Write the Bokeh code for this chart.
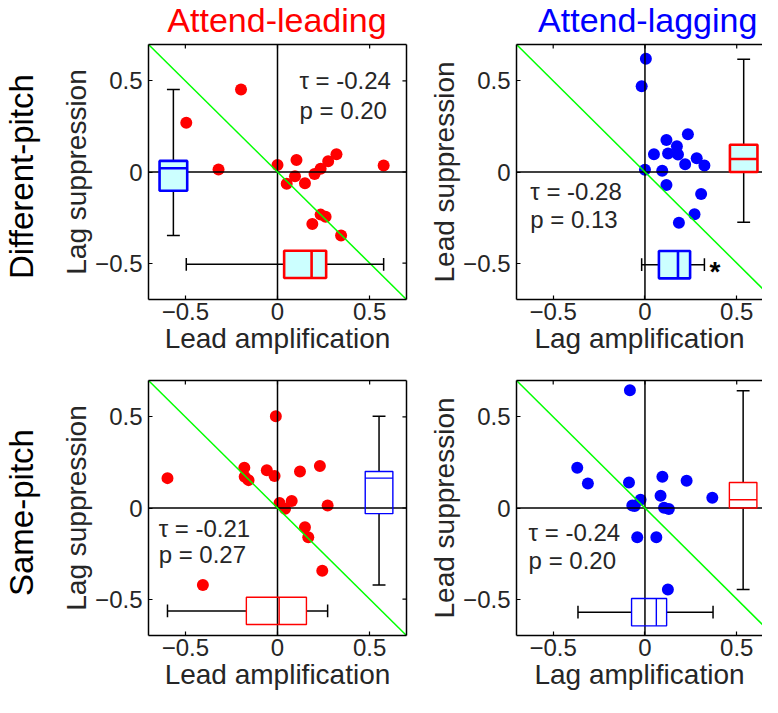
import math
from bokeh.plotting import figure
from bokeh.layouts import column, row
from bokeh.models import Range1d, LinearAxis, FixedTicker, Label
from bokeh.embed import file_html
from bokeh.resources import INLINE

FONT = "Liberation Sans"
TXT = "#262626"
RED = "#ff0000"
BLUE = "#0000ff"
CYAN = "#ccffff"
GREEN = "#00ff00"

# ---------------- data ----------------
col_titles = ["Attend-leading", "Attend-lagging"]
row_titles = ["Different-pitch", "Same-pitch"]
x_labels = ["Lead amplification", "Lag amplification"]
y_labels = ["Lag suppression", "Lead suppression"]
tick_values = [-0.5, 0, 0.5]
tick_labels = ["\u22120.5", "0", "0.5"]
AXLIM = [-0.7, 0.7]

# Different-pitch, attend-leading
dl_x = [-0.198, -0.495, -0.320, 0.000, 0.103, 0.320, 0.275, 0.234, 0.201,
        0.095, 0.050, 0.149, 0.576, 0.234, 0.261, 0.189, 0.345]
dl_y = [0.453, 0.271, 0.014, 0.039, 0.066, 0.098, 0.059, 0.018, -0.011,
        -0.023, -0.064, -0.062, 0.036, -0.234, -0.246, -0.285, -0.348]
# Different-pitch, attend-lagging
dg_x = [0.005, -0.018, 0.000, 0.049, 0.117, 0.174, 0.126, 0.180, 0.234,
        0.219, 0.282, 0.324, 0.094, 0.117, 0.306, 0.270, 0.185]
dg_y = [0.622, 0.471, 0.012, 0.098, 0.176, 0.141, 0.102, 0.096, 0.207,
        0.043, 0.075, 0.036, 0.007, -0.071, -0.121, -0.232, -0.278]
# Same-pitch, attend-leading
sl_x = [-0.009, -0.597, -0.180, -0.178, -0.157, -0.058, -0.016, 0.122, 0.230,
        0.011, 0.077, 0.041, 0.272, 0.149, 0.167, 0.243, -0.405]
sl_y = [0.504, 0.164, 0.221, 0.171, 0.153, 0.207, 0.176, 0.200, 0.230,
        0.027, 0.038, -0.004, 0.014, -0.106, -0.160, -0.345, -0.423]
# Same-pitch, attend-lagging
sg_x = [-0.082, -0.369, -0.311, -0.087, 0.095, 0.227, 0.085, -0.024, -0.069,
        0.104, 0.130, 0.367, -0.042, 0.062, 0.125, -0.056]
sg_y = [0.647, 0.221, 0.135, 0.140, 0.171, 0.149, 0.067, 0.045, 0.014,
        0.002, -0.005, 0.056, -0.160, -0.160, -0.448, 0.011]

# box statistics: [whisker low, q1, median, q3, whisker high]
dl_xbox = [-0.495, 0.036, 0.185, 0.264, 0.576]
dl_ybox = [-0.349, -0.103, 0.021, 0.061, 0.453]
dg_xbox = [-0.018, 0.076, 0.180, 0.246, 0.324]
dg_ybox = [-0.276, 0.000, 0.071, 0.150, 0.619]
sl_xbox = [-0.597, -0.169, 0.009, 0.157, 0.272]
sl_ybox = [-0.423, -0.031, 0.164, 0.200, 0.504]
sg_xbox = [-0.365, -0.073, 0.062, 0.118, 0.371]
sg_ybox = [-0.448, 0.000, 0.045, 0.140, 0.644]

tau_values = ["-0.24", "-0.28", "-0.21", "-0.24"]
p_values = ["0.20", "0.13", "0.27", "0.20"]

# ---------------- layout constants ----------------
ROWT_W = 58                      # width of the row-title strip
LEFT_W, RIGHT_W = 368, 336       # panel figure widths
HEAD_H = 40                      # column-title strip height
TOP_H, BOT_H = 321, 336          # panel figure heights
LEFT_MB = dict(left=89, right=20)
RIGHT_MB = dict(left=88, right=0)
ROW_MB = [dict(top=4, bottom=62), dict(top=19, bottom=62)]
RIGHT_XEND = 0.6405
BOX_HALF = 0.075
CAP_HALF = 0.035
TICK_LEN = 0.022


def style_axis(ax, standoff):
    ax.ticker = FixedTicker(ticks=tick_values)
    ax.minor_tick_line_color = None
    ax.major_tick_in = 4
    ax.major_tick_out = 0
    ax.major_tick_line_color = "black"
    ax.major_tick_line_width = 1.2
    ax.axis_line_color = "black"
    ax.axis_line_width = 1.5
    ax.major_label_overrides = {v: t for v, t in zip(tick_values, tick_labels)}
    ax.major_label_text_font = FONT
    ax.major_label_text_font_size = "24px"
    ax.major_label_text_color = TXT
    ax.major_label_standoff = standoff
    ax.axis_label_text_font = FONT
    ax.axis_label_text_font_size = "28px"
    ax.axis_label_text_font_style = "normal"
    ax.axis_label_text_color = TXT
    ax.axis_label_standoff = 0


def border_axis():
    ax = LinearAxis(ticker=FixedTicker(ticks=[]))
    ax.minor_tick_line_color = None
    ax.major_tick_line_color = None
    ax.axis_line_color = "black"
    ax.axis_line_width = 1.5
    ax.major_label_standoff = 0
    return ax


def blank_fig(width, height, x_range, y_range, mb):
    f = figure(width=width, height=height, x_range=x_range, y_range=y_range,
               output_backend="svg", toolbar_location=None,
               min_border_left=mb.get("left", 0), min_border_right=mb.get("right", 0),
               min_border_top=mb.get("top", 0), min_border_bottom=mb.get("bottom", 0))
    f.axis.visible = False
    f.grid.visible = False
    f.outline_line_color = None
    f.background_fill_color = None
    f.border_fill_color = "white"
    return f


def draw_box(p, stats, center, horizontal, color, filled, lw):
    lo, q1, med, q3, hi = stats
    a, b = center - BOX_HALF, center + BOX_HALF
    fill = CYAN if filled else None
    if horizontal:
        p.segment(x0=[lo, q3], x1=[q1, hi], y0=[center, center], y1=[center, center],
                  line_color="black", line_width=1.5)
        p.segment(x0=[lo, hi], x1=[lo, hi], y0=[center - CAP_HALF] * 2, y1=[center + CAP_HALF] * 2,
                  line_color="black", line_width=1.5)
        p.quad(left=[q1], right=[q3], bottom=[a], top=[b], fill_color=fill,
               line_color=color, line_width=lw)
        p.segment(x0=[med], x1=[med], y0=[a], y1=[b], line_color=color, line_width=lw)
    else:
        p.segment(y0=[lo, q3], y1=[q1, hi], x0=[center, center], x1=[center, center],
                  line_color="black", line_width=1.5)
        p.segment(y0=[lo, hi], y1=[lo, hi], x0=[center - CAP_HALF] * 2, x1=[center + CAP_HALF] * 2,
                  line_color="black", line_width=1.5)
        p.quad(bottom=[q1], top=[q3], left=[a], right=[b], fill_color=fill,
               line_color=color, line_width=lw)
        p.segment(y0=[med], y1=[med], x0=[a], x1=[b], line_color=color, line_width=lw)


def make_panel(r, c, xs, ys, xbox, ybox, cfg):
    left_col = (c == 0)
    top_row = (r == 0)
    xr = AXLIM if left_col else [AXLIM[0], RIGHT_XEND]
    mbx = LEFT_MB if left_col else RIGHT_MB
    mby = ROW_MB[r]
    p = figure(width=LEFT_W if left_col else RIGHT_W,
               height=TOP_H if top_row else BOT_H,
               x_range=Range1d(*xr), y_range=Range1d(*AXLIM),
               output_backend="svg", toolbar_location=None,
               min_border_left=mbx["left"], min_border_right=mbx["right"],
               min_border_top=mby["top"], min_border_bottom=mby["bottom"])
    p.outline_line_color = None
    p.grid.visible = False
    p.background_fill_color = "white"
    p.border_fill_color = "white"
    p.xaxis.axis_label = x_labels[c]
    p.yaxis.axis_label = y_labels[c]
    style_axis(p.xaxis[0], 3)
    style_axis(p.yaxis[0], 6)
    p.add_layout(border_axis(), "above")
    # mirrored inward ticks on the top edge
    p.segment(x0=tick_values, x1=tick_values, y0=[AXLIM[1]] * 3, y1=[AXLIM[1] - TICK_LEN] * 3,
              line_color="black", line_width=1.2)
    if left_col:
        p.add_layout(border_axis(), "right")
        p.segment(y0=tick_values, y1=tick_values, x0=[AXLIM[1]] * 3, x1=[AXLIM[1] - TICK_LEN] * 3,
                  line_color="black", line_width=1.2)

    dot = RED if left_col else BLUE
    p.scatter(xs, ys, size=12, fill_color=dot, line_color=None)
    p.line(x=AXLIM, y=[0, 0], line_color="black", line_width=1.5)
    p.line(x=[0, 0], y=AXLIM, line_color="black", line_width=1.5)
    p.line(x=AXLIM, y=[-v for v in AXLIM], line_color=GREEN, line_width=1.5)

    lw = 2.6 if top_row else 1.4
    xcol = RED if left_col else BLUE
    ycol = BLUE if left_col else RED
    draw_box(p, xbox, cfg["xbox_y"], True, xcol, top_row, lw)
    draw_box(p, ybox, cfg["ybox_x"], False, ycol, top_row, lw)

    i = r * 2 + c
    for txt, yy in ((f"\u03c4 = {tau_values[i]}", cfg["ty"][0]), (f"p = {p_values[i]}", cfg["ty"][1])):
        p.add_layout(Label(x=cfg["tx"], y=yy, text=txt, text_font=FONT, text_font_size="24px",
                           text_color=TXT, text_baseline="middle", text_align="left"))
    if cfg.get("star"):
        p.add_layout(Label(x=cfg["star"][0], y=cfg["star"][1], text="*", text_font=FONT,
                           text_font_size="28px", text_font_style="bold", text_color="black",
                           text_baseline="alphabetic", text_align="center"))
    return p


def header(c, title_x):
    left_col = (c == 0)
    mbx = LEFT_MB if left_col else RIGHT_MB
    xr = AXLIM if left_col else [AXLIM[0], RIGHT_XEND]
    extra = ROWT_W if left_col else 0
    f = blank_fig((LEFT_W if left_col else RIGHT_W) + extra, HEAD_H, Range1d(*xr), Range1d(0, HEAD_H),
                  dict(left=mbx["left"] + extra, right=mbx["right"]))
    f.add_layout(Label(x=title_x, y=20.5, text=col_titles[c], text_font=FONT, text_font_size="34px",
                       text_color=RED if left_col else BLUE, text_align="center",
                       text_baseline="middle"))
    return f


def row_title(r):
    h = TOP_H if r == 0 else BOT_H
    f = blank_fig(ROWT_W, h, Range1d(0, ROWT_W), Range1d(*AXLIM), ROW_MB[r])
    f.add_layout(Label(x=21, y=-0.025, text=row_titles[r], angle=math.pi / 2, text_font=FONT,
                       text_font_size="33px", text_color="black", text_align="center",
                       text_baseline="middle"))
    return f


cfgs = [
    dict(xbox_y=-0.507, ybox_x=-0.565, tx=0.119, ty=(0.50, 0.34)),
    dict(xbox_y=-0.509, ybox_x=0.538, tx=-0.625, ty=(-0.105, -0.26), star=(0.382, -0.545)),
    dict(xbox_y=-0.565, ybox_x=0.551, tx=-0.645, ty=(-0.111, -0.253)),
    dict(xbox_y=-0.572, ybox_x=0.535, tx=-0.634, ty=(-0.133, -0.288)),
]

tl = make_panel(0, 0, dl_x, dl_y, dl_xbox, dl_ybox, cfgs[0])
tr = make_panel(0, 1, dg_x, dg_y, dg_xbox, dg_ybox, cfgs[1])
bl = make_panel(1, 0, sl_x, sl_y, sl_xbox, sl_ybox, cfgs[2])
br = make_panel(1, 1, sg_x, sg_y, sg_xbox, sg_ybox, cfgs[3])

layout = column(
    row(header(0, 0.0), header(1, 0.02)),
    row(row_title(0), tl, tr),
    row(row_title(1), bl, br),
)
open("out.html", "w").write(file_html(layout, INLINE))
